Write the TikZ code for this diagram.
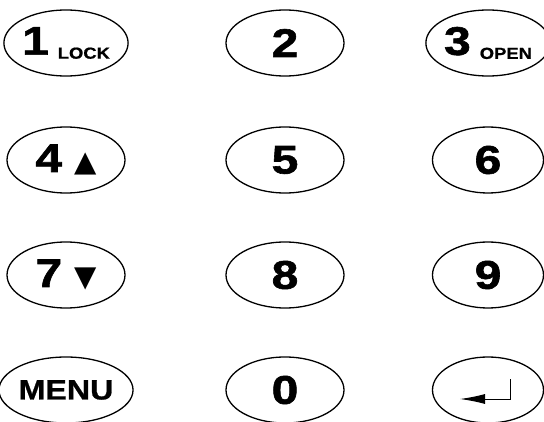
\documentclass[tikz,border=0pt]{standalone}
\usepackage{fontspec}
\setmainfont{Liberation Sans}
\newfontfamily\digitfont[FakeStretch=1.2,FakeBold=1.5]{Liberation Sans}
\newfontfamily\tagfont[FakeStretch=1.15,FakeBold=0.8]{Liberation Sans}
\newfontfamily\symfont{DejaVu Sans}
\usetikzlibrary{shapes.geometric,arrows.meta,calc}
\newcommand{\keynum}[1]{{\digitfont\bfseries\fontsize{40}{40}\selectfont #1}}
\newcommand{\keytag}[1]{\raisebox{-4pt}{\tagfont\bfseries\fontsize{16}{16}\selectfont #1}}
\newcommand{\keyarrow}[1]{\raisebox{0pt}{\symfont\fontsize{29}{29}\selectfont #1}}
\tikzset{
    key/.style={draw, ellipse, line width=1.3pt, minimum width=118pt,
        minimum height=66pt, inner sep=0pt},
    sidekey/.style={key, minimum width=111pt},
    enterline/.style={line width=1pt, -{Latex[length=25pt,width=10pt]}}
}
\begin{document}
\begin{tikzpicture}[x=1pt,y=-1pt]
    \useasboundingbox (0,0) rectangle (544,422);
    % first row
    \node[key] (k1) at (66,43) {\keynum{1}\hspace{9pt}\keytag{LOCK}};
    \node[key] (k2) at (285,43) {\keynum{2}};
    \node[sidekey] (k3) at (488,43) {\keynum{3}\hspace{9pt}\keytag{OPEN}};
    % second row
    \node[key] (k4) at (66,160) {\keynum{4}\hspace{12pt}\keyarrow{▲}};
    \node[key] (k5) at (285,160) {\keynum{5}};
    \node[sidekey] (k6) at (488,160) {\keynum{6}};
    % third row
    \node[key] (k7) at (66,275) {\keynum{7}\hspace{12pt}\keyarrow{▼}};
    \node[key] (k8) at (285,275) {\keynum{8}};
    \node[sidekey] (k9) at (488,275) {\keynum{9}};
    % last row
    \node[key] (menu) at (66,390) {\tagfont\bfseries\fontsize{28}{28}\selectfont MENU};
    \node[key] (k0) at (285,390) {\keynum{0}};
    \node[sidekey] (enter) at (488,390) {};
    \draw[enterline] ($(enter)+(22,-11)$) -- ++(0,20) -- ++(-50,0);
\end{tikzpicture}
\end{document}
